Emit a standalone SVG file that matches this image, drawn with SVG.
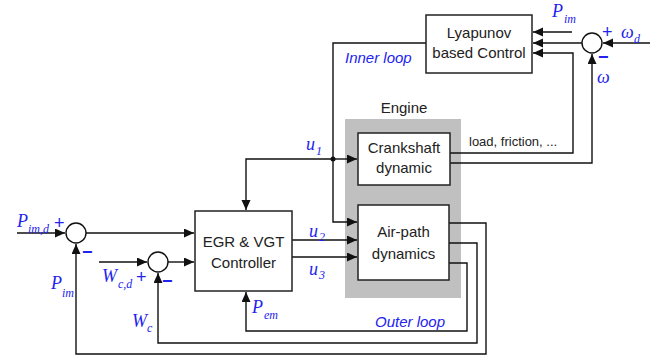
<svg xmlns="http://www.w3.org/2000/svg" width="664" height="358" viewBox="0 0 664 358">
<style>
.box{fill:#fff;stroke:#222;stroke-width:1.5}
.ln{fill:none;stroke:#111;stroke-width:1.4}
.arr{marker-end:url(#ah)}
.t{font-family:"Liberation Sans",Arial,sans-serif;font-size:15px;fill:#222;text-anchor:middle}
.lb{font-family:"Liberation Sans",Arial,sans-serif;font-size:15px;fill:#2222ee;font-style:italic}
.m{font-family:"Liberation Serif","Times New Roman",serif;font-style:italic;font-size:18px;fill:#2222ee}
.s{font-family:"Liberation Serif","Times New Roman",serif;font-style:italic;font-size:12px;fill:#2222ee}
.sg{font-family:"Liberation Sans",Arial,sans-serif;font-size:18px;fill:#2222ee}
.mn{font-weight:bold}
.sum{fill:#fff;stroke:#111;stroke-width:1.4}
</style>
<defs>
<marker id="ah" markerUnits="userSpaceOnUse" markerWidth="11" markerHeight="10" refX="10" refY="4.5" orient="auto">
<path d="M0,0 L10,4.5 L0,9 z" fill="#111"/>
</marker>
</defs>
<rect x="345" y="119" width="116" height="179" fill="#c0c0c0"/>
<text class="t" x="404" y="113">Engine</text>
<g id="connectors">
<path class="ln arr" d="M426,43 H333 V222 H357"/>
<path class="ln arr" d="M333,159 H357"/>
<path class="ln arr" d="M333,159 H246 V210"/>
<path class="ln arr" d="M17,233 H65"/>
<path class="ln arr" d="M86,233 H194"/>
<path class="ln arr" d="M99,262 H147"/>
<path class="ln arr" d="M168,262 H194"/>
<path class="ln arr" d="M292,240 H357"/>
<path class="ln arr" d="M292,257 H357"/>
<path class="ln arr" d="M449,223 H486 V354 H76 V244"/>
<path class="ln arr" d="M449,243 H477 V343 H158 V273"/>
<path class="ln arr" d="M449,263 H467 V331 H246 V292"/>
<path class="ln arr" d="M450,153 H573 V53 H533"/>
<path class="ln arr" d="M450,163 H592 V54"/>
<path class="ln arr" d="M650,43 H603"/>
<path class="ln arr" d="M582,43 H533"/>
<path class="ln arr" d="M572,32 H533"/>
<circle cx="333" cy="159" r="2.5" fill="#111"/>
</g>
<g id="lyapunov">
<rect class="box" x="426" y="15" width="106" height="58"/>
<text class="t" x="479" y="38">Lyapunov</text>
<text class="t" x="479" y="58">based Control</text>
</g>
<g id="crankshaft">
<rect class="box" x="358" y="133" width="92" height="52"/>
<text class="t" x="404" y="153">Crankshaft</text>
<text class="t" x="404" y="173">dynamic</text>
</g>
<g id="airpath">
<rect class="box" x="358" y="205" width="91" height="75"/>
<text class="t" x="403.5" y="237">Air-path</text>
<text class="t" x="403.5" y="259">dynamics</text>
</g>
<g id="egr">
<rect class="box" x="195" y="211" width="97" height="80"/>
<text class="t" x="243.5" y="247">EGR &amp; VGT</text>
<text class="t" x="243.5" y="268">Controller</text>
</g>
<g id="sum1"><circle class="sum" cx="76" cy="233" r="10"/></g>
<g id="sum2"><circle class="sum" cx="158" cy="262" r="10"/></g>
<g id="sum3"><circle class="sum" cx="592" cy="43" r="10"/></g>
<g id="labels">
<text class="lb" x="345" y="63">Inner loop</text>
<text class="lb" x="375" y="327">Outer loop</text>
<text class="t" x="469" y="146" style="font-size:13px;text-anchor:start">load, friction, ...</text>
<text class="m" x="552" y="17">P</text><text class="s" x="564" y="23">im</text>
<text class="m" x="621" y="38">ω</text><text class="s" x="634" y="43">d</text>
<text class="m" x="597" y="83">ω</text>
<text class="m" x="306" y="150">u</text><text class="s" x="316" y="155">1</text>
<text class="m" x="309" y="237">u</text><text class="s" x="319" y="241">2</text>
<text class="m" x="309" y="275">u</text><text class="s" x="319" y="279">3</text>
<text class="m" x="17" y="227">P</text><text class="s" x="28" y="233">im,d</text>
<text class="m" x="102" y="282">W</text><text class="s" x="118" y="288">c,d</text>
<text class="m" x="51" y="289">P</text><text class="s" x="62" y="297">im</text>
<text class="m" x="132" y="327">W</text><text class="s" x="147" y="332">c</text>
<text class="m" x="252" y="313">P</text><text class="s" x="264" y="319">em</text>
<text class="sg" x="54" y="229">+</text>
<text class="sg mn" x="82" y="258">−</text>
<text class="sg" x="136" y="283">+</text>
<text class="sg mn" x="162" y="287">−</text>
<text class="sg" x="602" y="38">+</text>
<text class="sg mn" x="598" y="63">−</text>
</g>
</svg>
